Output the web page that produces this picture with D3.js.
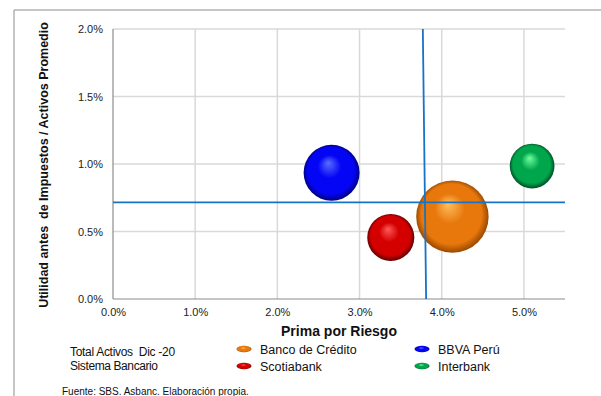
<!DOCTYPE html>
<html><head><meta charset="utf-8">
<script src="https://cdn.jsdelivr.net/npm/d3@7"></script>
<style>body{margin:0;background:#fff}svg{display:block;font-family:"Liberation Sans",Arial,sans-serif}</style>
</head><body><svg id="c" width="601" height="396"></svg>
<script>
const banks = ["Banco de Crédito","BBVA Perú","Scotiabank","Interbank"];
const primaRiesgo = [4.13, 2.66, 3.38, 5.10];
const utilidad = [0.61, 0.935, 0.456, 0.985];
const activos = [194, 116, 82, 74];
const colorsBase = ["#e8780c","#0505f5","#d40000","#00a64c"];
const colorsLight = ["#ffc060","#5a70ff","#ff5a5a","#70ffa0"];
const colorsDark = ["#8a4000","#00006a","#500000","#004020"];
const xTicks = [0,1,2,3,4,5];
const yTicks = [0,0.5,1,1.5,2];
const refX = [3.77, 3.81];
const refY = 0.716;

const svg = d3.select("#c");
const x = d3.scaleLinear().domain([0,5.5]).range([113,565]);
const y = d3.scaleLinear().domain([0,2]).range([299,29]);
const r = d3.scaleSqrt().domain([0,194]).range([0,36.2]);
const fmt = d => d.toFixed(1) + "%";

// frame
svg.append("path").attr("d","M14,396V10H601").attr("fill","none").attr("stroke","#8c8c8c").attr("stroke-width",1);

// grid
svg.append("g").selectAll("line").data(xTicks.slice(1)).join("line")
  .attr("x1",d=>x(d)).attr("x2",d=>x(d)).attr("y1",y(2)).attr("y2",y(0))
  .attr("stroke","#d9d9d9").attr("stroke-width",1.5);
svg.append("g").selectAll("line").data(yTicks.slice(1)).join("line")
  .attr("x1",x(0)).attr("x2",565).attr("y1",d=>y(d)).attr("y2",d=>y(d))
  .attr("stroke","#d9d9d9").attr("stroke-width",1.5);

// axes
const xa = svg.append("g").attr("transform",`translate(0,${y(0)})`)
  .call(d3.axisBottom(x).tickValues(xTicks).tickFormat(fmt).tickSize(0).tickPadding(9));
const ya = svg.append("g").attr("transform",`translate(${x(0)},0)`)
  .call(d3.axisLeft(y).tickValues(yTicks).tickFormat(fmt).tickSize(0).tickPadding(10));
[xa,ya].forEach(a=>{
  a.select(".domain").attr("stroke","#8c8c8c").attr("stroke-width",1.2);
  a.selectAll("text").attr("font-size",11).attr("fill","#222").attr("font-family","Liberation Sans, Arial, sans-serif");
});
ya.select(".domain").attr("d",`M0,${y(2)}V${y(0)}`);
xa.select(".domain").attr("d",`M${x(0)},0H565`);

// gradients
const defs = svg.append("defs");
banks.forEach((b,i)=>{
  const g = defs.append("radialGradient").attr("id","g"+i)
    .attr("cx","50%").attr("cy","50%").attr("r","52%").attr("fx","44%").attr("fy","32%");
  g.append("stop").attr("offset","0%").attr("stop-color",colorsLight[i]);
  g.append("stop").attr("offset","40%").attr("stop-color",colorsBase[i]);
  g.append("stop").attr("offset","80%").attr("stop-color",colorsBase[i]);
  g.append("stop").attr("offset","100%").attr("stop-color",colorsDark[i]);
});

// bubbles (largest first)
const idx = d3.range(banks.length).sort((a,b)=>activos[b]-activos[a]);
svg.append("g").selectAll("circle").data(idx).join("circle")
  .attr("cx",i=>x(primaRiesgo[i])).attr("cy",i=>y(utilidad[i])).attr("r",i=>r(activos[i]))
  .attr("fill",i=>`url(#g${i})`);

// reference lines
svg.append("line").attr("x1",x(0)).attr("x2",565).attr("y1",y(refY)).attr("y2",y(refY))
  .attr("stroke","#1673c8").attr("stroke-width",1.8);
svg.append("line").attr("x1",x(refX[0])).attr("x2",x(refX[1])).attr("y1",y(2)).attr("y2",y(0))
  .attr("stroke","#1673c8").attr("stroke-width",1.8);

// axis titles
svg.append("text").attr("x",339).attr("y",336).attr("text-anchor","middle")
  .attr("font-size",14).attr("font-weight","bold").attr("fill","#111").text("Prima por Riesgo");
svg.append("text").attr("transform","translate(48,165) rotate(-90)").attr("text-anchor","middle")
  .attr("font-size",12.5).attr("font-weight","bold").attr("fill","#111")
  .style("white-space","pre")
  .text("Utilidad antes  de Impuestos / Activos Promedio");

// legend left text
svg.append("text").attr("x",70).attr("y",356).attr("font-size",12).attr("fill","#111")
  .style("white-space","pre").attr("letter-spacing",-0.3).text("Total Activos  Dic -20");
svg.append("text").attr("x",70).attr("y",370).attr("font-size",12).attr("fill","#111")
  .attr("letter-spacing",-0.4).text("Sistema Bancario");

// legend entries
const legPos = [[244,349],[422,349],[244,366],[422,366]];
const lg = svg.append("g").selectAll("g").data(d3.range(banks.length)).join("g")
  .attr("transform",i=>`translate(${legPos[i][0]},${legPos[i][1]})`);
lg.append("ellipse").attr("rx",7.5).attr("ry",3.2).attr("fill",i=>`url(#g${i})`);
lg.append("text").attr("x",16).attr("y",4.5).attr("font-size",12.5).attr("fill","#111").text(i=>banks[i]);

// source
svg.append("text").attr("x",62).attr("y",395).attr("font-size",10).attr("fill","#111")
  .attr("letter-spacing",0).text("Fuente: SBS. Asbanc. Elaboración propia.");
</script></body></html>
